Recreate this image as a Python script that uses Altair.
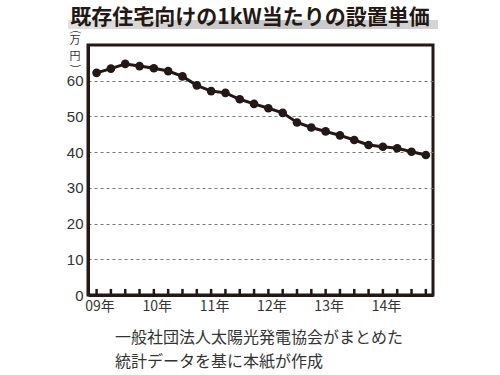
import altair as alt
import pandas as pd

# ---- data ----
quarter_index = list(range(24))  # 2009 Q1 .. 2014 Q4
price = [62.2, 63.4, 64.7, 64.1, 63.5, 62.7, 61.2, 58.7, 57.1, 56.6, 54.8, 53.5,
         52.3, 51.0, 48.3, 46.9, 45.8, 44.7, 43.4, 42.0, 41.5, 41.1, 40.1, 39.2]
year_labels = ["09年", "10年", "11年", "12年", "13年", "14年"]
year_ticks = [0, 4, 8, 12, 16, 20]
y_ticks = [0, 10, 20, 30, 40, 50, 60]
title_text = "既存住宅向けの1kW当たりの設置単価"
unit_chars = ["万", "円"]
source_lines = ["一般社団法人太陽光発電協会がまとめた", "統計データを基に本紙が作成"]

ink = "#231815"
cjk = "Noto Sans CJK JP"

df = pd.DataFrame({"q": quarter_index, "price": price})
df_ticks = pd.DataFrame({"q": quarter_index, "y0": [0] * 24, "y1": [1.7] * 24})
one = pd.DataFrame({"a": [0]})

label_expr = "[" + ",".join("'%s'" % s for s in year_labels) + "][floor(datum.value / 4)]"

x_enc = alt.X(
    "q:Q",
    scale=alt.Scale(domain=[-0.6, 23.5], nice=False, zero=False),
    axis=alt.Axis(values=year_ticks, labelExpr=label_expr, title=None, ticks=False,
                  grid=False, domainColor=ink, domainWidth=3, labelFont=cjk,
                  labelFontSize=14, labelColor="#333333", labelPadding=4,
                  labelOffset=3),
)
y_enc = alt.Y(
    "price:Q",
    scale=alt.Scale(domain=[0, 70], nice=False),
    axis=alt.Axis(values=y_ticks, title=None, ticks=False, grid=True,
                  gridDash=[3, 3], gridColor="#777777", gridWidth=1,
                  domainColor=ink, domainWidth=3, labelFont="Liberation Sans",
                  labelFontSize=15, labelColor="#333333", labelPadding=5),
)

base = alt.Chart(df)
line = base.mark_line(color=ink, strokeWidth=3).encode(x=x_enc, y=y_enc)
pts = base.mark_circle(color=ink, size=75, opacity=1).encode(x="q:Q", y="price:Q")

ticks = alt.Chart(df_ticks).mark_rule(color=ink, strokeWidth=2.5).encode(
    x="q:Q", y="y0:Q", y2="y1:Q")

gradient = {"gradient": "linear", "x1": 0, "x2": 1, "y1": 0, "y2": 0,
            "stops": [{"offset": 0, "color": "#e2e2e2"},
                      {"offset": 0.5, "color": "#c4c4c4"},
                      {"offset": 1, "color": "#d4d4d4"}]}
bar = alt.Chart(one).mark_rect(fill=gradient).encode(
    x=alt.value(-20), x2=alt.value(350), y=alt.value(-25), y2=alt.value(-16))

title = alt.Chart(one).mark_text(text=title_text, font=cjk, fontSize=21,
                                 fontWeight="bold", color=ink, align="center",
                                 baseline="middle").encode(
    x=alt.value(162), y=alt.value(-27))

unit_style = dict(font=cjk, fontSize=11, color="#333333", align="center",
                  baseline="middle")
u_open = alt.Chart(one).mark_text(text="(", angle=90, **unit_style).encode(
    x=alt.value(-13), y=alt.value(-13))
u_1 = alt.Chart(one).mark_text(text=unit_chars[0], **unit_style).encode(
    x=alt.value(-13), y=alt.value(-4))
u_2 = alt.Chart(one).mark_text(text=unit_chars[1], **unit_style).encode(
    x=alt.value(-13), y=alt.value(12))
u_close = alt.Chart(one).mark_text(text=")", angle=90, **unit_style).encode(
    x=alt.value(-13), y=alt.value(21))

src1 = alt.Chart(one).mark_text(text=source_lines[0], font=cjk, fontSize=16,
                                color="#333333", align="left",
                                baseline="middle").encode(
    x=alt.value(27), y=alt.value(293))
src2 = alt.Chart(one).mark_text(text=source_lines[1], font=cjk, fontSize=16,
                                color="#333333", align="left",
                                baseline="middle").encode(
    x=alt.value(27), y=alt.value(317))

chart = alt.layer(line, ticks, pts, bar, title, u_open, u_1, u_2, u_close,
                  src1, src2).properties(
    width=345, height=250,
    autosize=alt.AutoSizeParams(type="none"),
    padding={"left": 88, "top": 45, "right": 67, "bottom": 80},
    background="white",
).configure_view(stroke=ink, strokeWidth=3)

chart.save("out.html", embed_options={"renderer": "svg", "actions": False})
